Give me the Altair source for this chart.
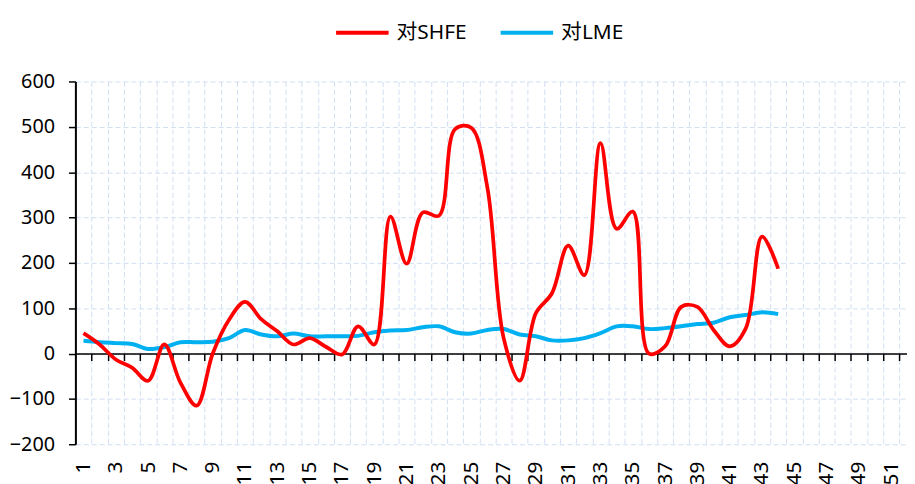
import altair as alt
import pandas as pd

# ---- data ----
weeks = list(range(1, 45))
shfe = [45, 20, -13, -31, -60, 20, -64, -115, 0, 74,
        114, 76, 49, 20, 34, 15, -2, 60, 20, 302,
        198, 311, 304, 495, 498, 366, 35, -60, 89, 133,
        238, 173, 464, 275, 313, 0, 16, 103, 103, 52,
        16, 56, 258, 187]
lme = [28, 25, 23, 21, 10, 14, 25, 25, 26, 34,
       52, 42, 38, 44, 38, 38, 38, 39, 47, 51,
       52, 58, 60, 47, 44, 52, 54, 42, 38, 29,
       29, 34, 45, 60, 60, 54, 56, 60, 65, 68,
       80, 85, 91, 87]
series_names = ["对SHFE", "对LME"]
series_colors = ["#FF0000", "#00B0F0"]
y_ticks = [-200, -100, 0, 100, 200, 300, 400, 500, 600]
n_cats = 52
label_weeks = list(range(1, n_cats + 1, 2))
boundaries = [k + 0.5 for k in range(1, n_cats)]

df = pd.DataFrame({
    "week": weeks * 2,
    "value": shfe + lme,
    "series": [series_names[0]] * len(weeks) + [series_names[1]] * len(weeks),
})

W, H = 839, 366
step = 16.3
FONT = "Noto Sans, Noto Sans CJK SC"
GRID = "#D0DFF3"
FS = 20

x_scale = alt.Scale(domain=[0.5, 0.5 + W / step], nice=False, zero=False)
y_scale = alt.Scale(domain=[-200, 600], nice=False, zero=False)
color_scale = alt.Scale(domain=series_names, range=series_colors)

y_axis = alt.Axis(values=y_ticks, grid=True, gridColor=GRID, gridDash=[5, 3],
                  gridWidth=1, domainColor="black", domainWidth=2,
                  tickColor="black", tickSize=7, tickWidth=1.5,
                  labelFont=FONT, labelFontSize=FS, labelColor="black",
                  labelPadding=14, title=None, labelFlush=False)

zero_offset = -H * (0 - (-200)) / 800.0

grid_axis = alt.Axis(values=boundaries, orient="bottom", grid=True, gridColor=GRID,
                     gridDash=[5, 3], gridWidth=1, labels=False, ticks=True,
                     tickSize=7, tickColor="black", tickWidth=1.5, domain=True,
                     domainColor="black", domainWidth=1.5, offset=zero_offset,
                     title=None)

label_axis = alt.Axis(values=label_weeks, orient="bottom", grid=False, ticks=False,
                      domain=False, labelAngle=270, labelFont=FONT,
                      labelFontSize=21, labelColor="black", labelPadding=17,
                      labelOverlap=False, labelFlush=False, title=None)

legend = alt.Legend(orient="none", legendX=261, legendY=-78, direction="horizontal",
                    title=None, symbolType="stroke", symbolSize=2809,
                    symbolStrokeWidth=4, labelFont=FONT, labelFontSize=21,
                    labelColor="black", labelOffset=6, columnPadding=26,
                    padding=0, labelLimit=300)

blue = alt.Chart(df).transform_filter(
    alt.datum.series == series_names[1]
).mark_line(interpolate="catmull-rom", strokeWidth=4).encode(
    x=alt.X("week:Q", scale=x_scale, axis=grid_axis),
    y=alt.Y("value:Q", scale=y_scale, axis=y_axis),
    color=alt.Color("series:N", scale=color_scale, legend=legend),
)

red = alt.Chart(df).transform_filter(
    alt.datum.series == series_names[0]
).mark_line(interpolate="catmull-rom", strokeWidth=3.75).encode(
    x=alt.X("week:Q", scale=x_scale, axis=label_axis),
    y=alt.Y("value:Q", scale=y_scale, axis=y_axis),
    color=alt.Color("series:N", scale=color_scale, legend=legend),
)

chart = alt.layer(blue, red).resolve_axis(x="independent").properties(
    width=W, height=H,
    autosize=alt.AutoSizeParams(type="none"),
    padding={"left": 68, "top": 72, "right": 0, "bottom": 38},
    background="white",
).configure_view(strokeWidth=0)

chart.save("out.html", embed_options={"renderer": "svg", "actions": False})
